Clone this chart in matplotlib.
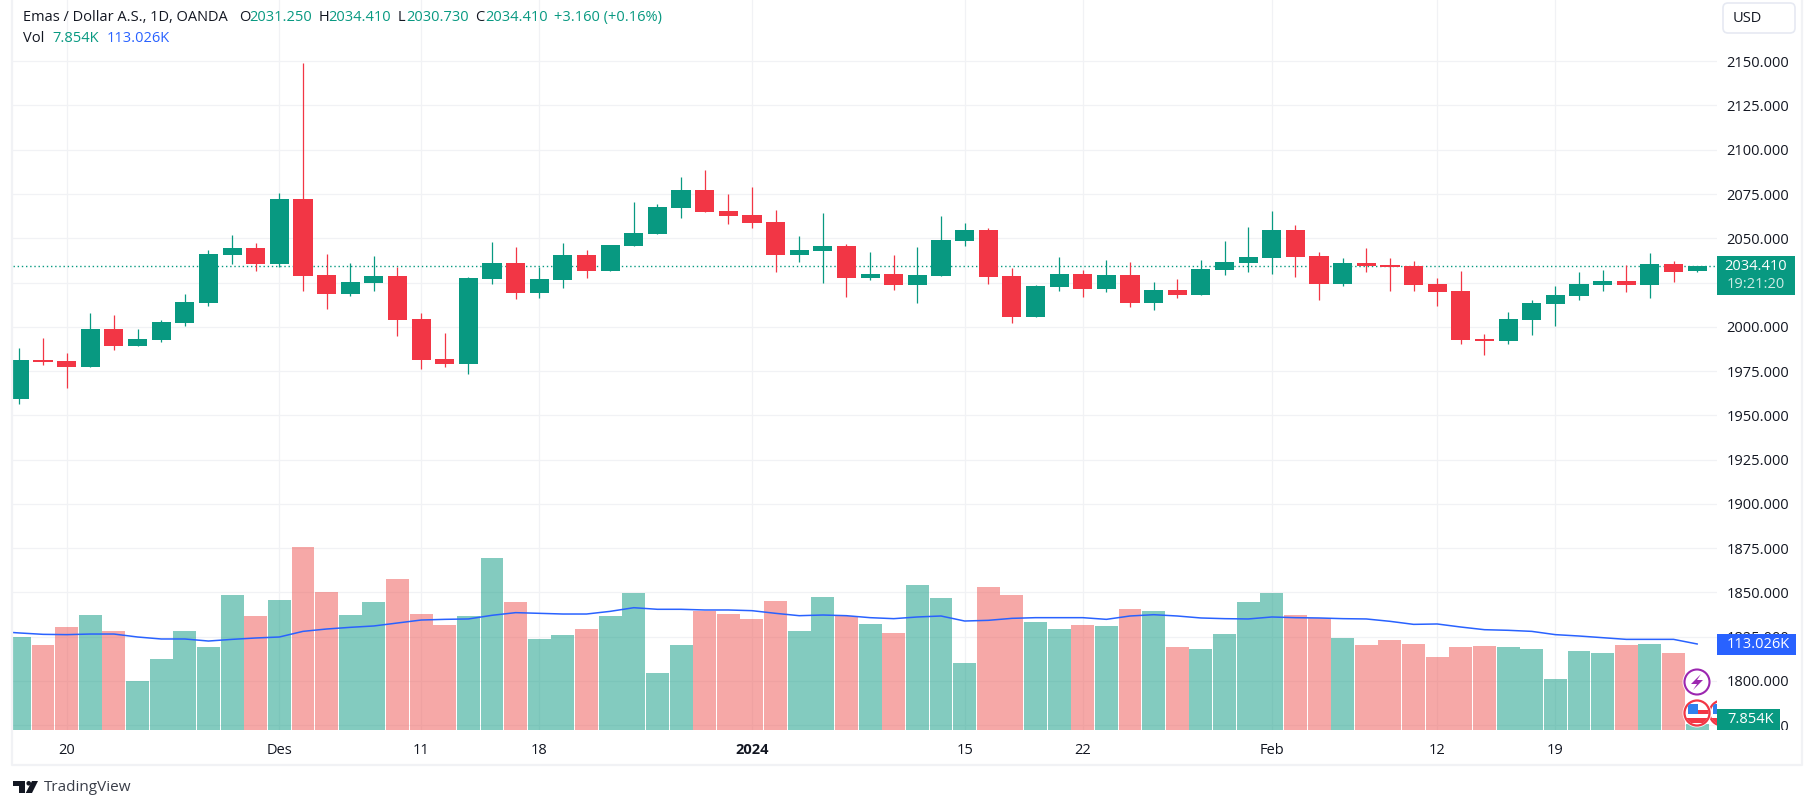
import matplotlib
matplotlib.use("Agg")
import matplotlib.pyplot as plt
from matplotlib.patches import Circle, FancyBboxPatch, Polygon, Rectangle

plt.rcParams["font.family"] = ["Open Sans", "DejaVu Sans"]

# price data
opens = [1959.4, 1981.3, 1980.7, 1977.3, 1998.8, 1989.2, 1992.6, 2002.2, 2013.5, 2040.6, 2044.5, 2035.5,
         2072.2, 2029.3, 2018.6, 2024.8, 2028.7, 2004.4, 1981.8, 1979.0, 2027.0, 2036.1, 2019.1, 2026.5,
         2040.6, 2031.5, 2045.7, 2052.4, 2067.1, 2077.3, 2065.4, 2063.2, 2059.2, 2040.6, 2042.8, 2045.7,
         2027.6, 2029.9, 2023.6, 2028.7, 2048.5, 2054.7, 2028.7, 2005.6, 2022.5, 2029.9, 2021.4, 2029.3,
         2013.5, 2020.8, 2018.0, 2032.1, 2036.1, 2038.9, 2054.7, 2040.0, 2024.2, 2036.1, 2034.9, 2034.4,
         2024.2, 2020.2, 1993.1, 1992.0, 2003.9, 2012.9, 2017.4, 2023.6, 2025.9, 2023.6, 2035.5, 2031.25]
closes = [1981.3, 1980.1, 1977.3, 1998.8, 1989.2, 1993.1, 2002.7, 2014.0, 2041.1, 2044.5, 2035.5, 2072.2,
          2028.7, 2018.6, 2025.3, 2028.7, 2003.9, 1981.3, 1979.0, 2027.6, 2036.1, 2019.1, 2027.0, 2040.6,
          2031.5, 2046.2, 2053.0, 2067.7, 2077.3, 2064.9, 2062.6, 2058.7, 2040.6, 2043.4, 2045.7, 2027.6,
          2029.9, 2023.6, 2029.3, 2049.1, 2054.7, 2028.2, 2005.6, 2023.1, 2029.9, 2021.4, 2029.3, 2013.5,
          2020.8, 2018.0, 2032.7, 2036.6, 2039.5, 2054.7, 2039.5, 2024.2, 2036.1, 2034.4, 2033.8, 2023.6,
          2019.7, 1992.6, 1992.0, 2004.4, 2013.5, 2018.0, 2024.2, 2025.9, 2023.6, 2035.5, 2031.0, 2034.41]
highs = [1988.0, 1993.7, 1985.2, 2007.8, 2006.7, 1998.8, 2003.9, 2018.6, 2043.4, 2051.9, 2047.4, 2075.6,
         2149.1, 2041.1, 2036.1, 2040.0, 2033.8, 2007.8, 1996.5, 2028.2, 2047.9, 2045.1, 2033.8, 2047.4,
         2043.4, 2046.2, 2070.5, 2069.4, 2084.7, 2088.6, 2075.0, 2079.0, 2066.0, 2051.3, 2064.3, 2046.8,
         2042.3, 2040.6, 2045.1, 2062.6, 2058.7, 2055.8, 2033.2, 2023.6, 2039.5, 2032.1, 2037.8, 2036.6,
         2025.3, 2027.0, 2037.8, 2048.5, 2056.4, 2065.4, 2057.5, 2042.3, 2038.9, 2044.5, 2038.9, 2037.2,
         2027.6, 2031.5, 1996.0, 2008.4, 2015.2, 2023.1, 2031.0, 2032.1, 2034.9, 2041.7, 2037.2, 2034.41]
lows = [1956.4, 1978.4, 1965.4, 1977.3, 1986.9, 1989.2, 1991.4, 2000.5, 2011.8, 2035.5, 2031.5, 2033.8,
        2020.2, 2010.1, 2017.4, 2020.2, 1994.8, 1976.2, 1977.3, 1973.4, 2024.2, 2015.7, 2016.3, 2021.9,
        2027.6, 2031.5, 2045.7, 2052.4, 2061.5, 2064.9, 2058.1, 2055.8, 2031.0, 2036.6, 2024.8, 2016.9,
        2026.5, 2020.8, 2013.5, 2028.7, 2045.7, 2024.2, 2002.2, 2005.6, 2020.2, 2016.9, 2019.7, 2011.2,
        2009.5, 2016.3, 2018.0, 2029.3, 2031.0, 2029.9, 2028.2, 2015.2, 2023.1, 2031.0, 2020.2, 2020.2,
        2011.8, 1990.3, 1984.1, 1990.3, 1995.4, 2000.5, 2015.2, 2020.2, 2019.7, 2016.3, 2025.3, 2030.73]

# volume and its moving average, in thousands
volumes = [122.2, 111.7, 135.3, 151.1, 130.1, 64.4, 93.3, 130.1, 109.1, 177.4, 149.8, 170.8,
           240.5, 181.3, 151.1, 168.2, 198.4, 152.4, 138.0, 149.8, 226.0, 168.2, 119.6, 124.8,
           132.7, 149.8, 180.0, 74.9, 111.7, 156.8, 152.4, 145.9, 169.5, 130.1, 174.8, 149.8,
           139.3, 127.5, 190.5, 173.4, 88.0, 187.9, 177.4, 141.9, 132.7, 138.0, 136.7, 159.0,
           156.4, 109.1, 106.4, 126.1, 168.2, 180.0, 151.1, 147.2, 120.9, 111.7, 118.3, 113.0,
           95.9, 109.1, 110.4, 109.1, 106.4, 67.0, 103.8, 101.2, 111.7, 113.0, 101.2, 7.854]
# first value belongs to the bar before the left edge, the line runs off the pane there
vol_ma = [129.6, 127.5, 125.7, 125.3, 126.1, 126.1, 122.2, 119.6, 119.6, 116.9, 119.1, 120.9, 122.2,
          129.6, 132.7, 134.9, 136.7, 140.6, 144.5, 145.4, 145.9, 150.7, 154.2, 153.3, 152.4,
          152.4, 155.9, 160.7, 158.6, 158.6, 157.7, 157.7, 156.8, 153.3, 150.2, 151.1, 150.2,
          147.6, 146.3, 148.5, 149.8, 143.2, 144.1, 146.7, 147.6, 147.6, 147.6, 145.4, 149.8,
          151.5, 149.8, 147.2, 146.3, 145.9, 148.5, 147.6, 147.2, 146.3, 145.9, 142.8, 138.8,
          139.3, 135.3, 131.8, 131.0, 129.6, 125.3, 123.5, 121.3, 119.1, 119.1, 119.1, 113.026]

date_ticks = [2, 11, 17, 22, 31, 40, 45, 53, 60, 65]
date_labels = ["20", "Des", "11", "18", "2024", "15", "22", "Feb", "12", "19"]
price_ticks = [1775, 1800, 1825, 1850, 1875, 1900, 1925, 1950, 1975, 2000, 2025, 2050, 2075, 2100, 2125, 2150]
last_price = 2034.41

GREEN = "#089981"
RED = "#f23645"
VOL_RED = "#ef5350"
BLUE = "#2962ff"
GRID = "#f1f2f5"
TEXT = "#131722"
FS = 10.5

W, H = 1815, 809
fig = plt.figure(figsize=(W / 100, H / 100), dpi=100, facecolor="white")

ax = fig.add_axes([13 / W, (H - 730) / H, (1717 - 13) / W, 730 / H])
x = list(range(len(opens)))
colors = [GREEN if c >= o else RED for o, c in zip(opens, closes)]
vol_colors = [GREEN if c >= o else VOL_RED for o, c in zip(opens, closes)]

ax.axhline(last_price, color=GREEN, lw=1, ls=(0, (1, 2)), zorder=1)
ax.vlines(x, lows, highs, colors=colors, lw=0.9, zorder=2)
ax.bar(x, [c - o for o, c in zip(opens, closes)], bottom=opens, width=0.81, color=colors, zorder=3)

ax.set_xlim(-0.271, 71.84)
ax.set_ylim(1772.2, 2184.6)
ax.set_yticks(price_ticks)
ax.set_yticklabels(["%.3f" % p for p in price_ticks], fontsize=FS, color=TEXT)
ax.set_xticks(date_ticks)
ax.set_xticklabels(date_labels, fontsize=FS, color=TEXT)
ax.get_xticklabels()[4].set_fontweight("bold")
ax.grid(True, color=GRID, lw=0.9, zorder=0)
ax.set_axisbelow(True)
for s in ax.spines.values():
    s.set_visible(False)

# volume shares the pane, scaled so the bars stay in the lower part
vax = ax.twinx()
vax.set_ylim(0, 959.2)
vax.bar(x, volumes, width=0.97, color=vol_colors, alpha=0.5, lw=0, zorder=2)
vax.plot([-1] + x, vol_ma, color=BLUE, lw=1.1, zorder=3)
vax.set_yticks([])
for s in vax.spines.values():
    s.set_visible(False)

# twinx moves the price ticks back to the left, so set the side here
ax.yaxis.tick_right()
ax.tick_params(axis="both", length=0)
ax.tick_params(axis="y", pad=7)
ax.tick_params(axis="x", pad=9)

# overlay in pixel units for the labels, frame and icons
ov = fig.add_axes([0, 0, 1, 1], zorder=10)
ov.set_xlim(0, W)
ov.set_ylim(H, 0)
ov.axis("off")
ov.patch.set_alpha(0)


def txt(px, py, s, color=TEXT, size=FS, **kw):
    kw.setdefault("va", "center")
    ov.text(px, py, s, color=color, fontsize=size, **kw)


# frame
ov.plot([12, 12, 1802, 1802], [0, 765, 765, 0], color=GRID, lw=1.6)

# legend rows
txt(23, 17, "Emas / Dollar A.S., 1D, OANDA")
for lx, vx, name, val in [(239, 249, "O", "2031.250"), (319, 328, "H", "2034.410"),
                          (398, 406, "L", "2030.730"), (475, 485, "C", "2034.410")]:
    txt(lx, 17, name)
    txt(vx, 17, val, GREEN)
txt(554, 17, "+3.160 (+0.16%)", GREEN)
txt(23, 38, "Vol")
txt(52, 38, "7.854K", GREEN)
txt(107, 38, "113.026K", BLUE)

# currency button
ov.add_patch(FancyBboxPatch((1723, 3), 72, 30, boxstyle="round,pad=0,rounding_size=5",
                            fc="white", ec="#e6e9f2", lw=1.2))
txt(1733, 18, "USD")

# last value tags, the 1775 label is cut off at the bottom of the pane
ov.add_patch(Rectangle((1717, 729.5), 84, 9, fc="white", ec="none"))
ov.add_patch(Rectangle((1717, 256), 78, 39, fc=GREEN, ec="none"))
txt(1756, 266, "2034.410", "white", ha="center")
txt(1756, 285, "19:21:20", "#cdeae5", ha="center")
ov.add_patch(Rectangle((1717, 634), 79, 21, fc=BLUE, ec="none"))
txt(1727, 644.5, "113.026K", "white")

# event icons
ov.add_patch(Circle((1697, 682), 14.5, fc="white", ec="none", alpha=0.85))
ov.add_patch(Circle((1697, 682), 12.5, fc="white", ec="#9c27b0", lw=1.5))
ov.add_patch(Polygon([(1701, 674), (1691, 684), (1697, 684), (1693, 690), (1703, 680), (1697, 680)],
                     fc="#9c27b0", ec="none"))
clip = Rectangle((0, 0), 1717, H, transform=ov.transData)
for cx in (1722, 1697):
    halo = Circle((cx, 713), 14.5, fc="white", ec="none", alpha=0.85)
    ring = Circle((cx, 713), 12.5, fc="white", ec=RED, lw=1.6)
    ov.add_patch(halo)
    ov.add_patch(ring)
    halo.set_clip_path(clip)
    ring.set_clip_path(clip)
    right = min(cx + 12, 1717)
    stripes = [Rectangle((cx - 12, 718), right - cx + 12, 5, fc=RED, ec="none"),
               Rectangle((cx, 710), right - cx, 4, fc=RED, ec="none") if right > cx else None,
               Rectangle((cx - 9, 704), min(10.5, right - cx + 9), 10, fc="#2f80ed", ec="none")]
    for st in stripes:
        if st is not None:
            ov.add_patch(st)
            st.set_clip_path(Circle((cx, 713), 11.6, transform=ov.transData))

ov.add_patch(Rectangle((1717, 709), 63, 21, fc=GREEN, ec="none"))
txt(1727, 719.5, "7.854K", "white")

# TradingView mark
ov.add_patch(Polygon([(13.3, 781), (25.3, 781), (25.3, 793), (19, 793), (19, 785.7), (13.3, 785.7)], fc=TEXT, ec="none"))
ov.add_patch(Circle((28.7, 783.3), 2.3, fc=TEXT, ec="none"))
ov.add_patch(Polygon([(32, 781), (38, 781), (32, 793), (25.7, 793)], fc=TEXT, ec="none"))
txt(43.5, 787.5, "TradingView", "#3a3e49", size=11)

fig.savefig("out.png", dpi=100)
